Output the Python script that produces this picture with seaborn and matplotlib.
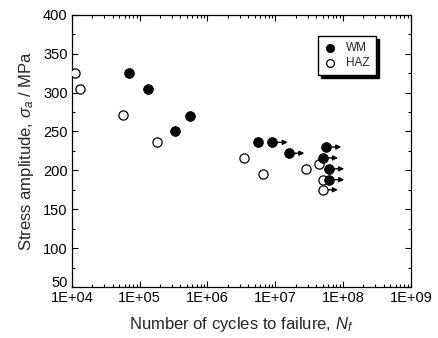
import numpy as np
import pandas as pd
import matplotlib
matplotlib.use("Agg")
import matplotlib.pyplot as plt
import matplotlib.ticker as mticker
from matplotlib.transforms import offset_copy
import seaborn as sns

# S-N data
wm_cycles = [7.0e4, 1.32e5, 3.3e5, 5.5e5, 5.5e6, 9.1e6, 1.6e7, 5.6e7, 5.0e7, 6.2e7, 6.2e7]
wm_stress = [325, 305, 250, 270, 236, 236, 222, 230, 216, 202, 188]
wm_runout = [False, False, False, False, False, True, True, True, True, True, True]

haz_cycles = [1.1e4, 1.34e4, 5.6e4, 1.8e5, 3.5e6, 6.6e6, 2.8e7, 4.4e7, 5.0e7, 5.0e7]
haz_stress = [325, 305, 271, 236, 216, 195, 202, 208, 188, 175]
haz_runout = [False, False, False, False, False, False, False, False, False, True]

x_ticks = [1e4, 1e5, 1e6, 1e7, 1e8, 1e9]

df = pd.concat([
    pd.DataFrame({"N": wm_cycles, "S": wm_stress, "runout": wm_runout, "zone": "WM"}),
    pd.DataFrame({"N": haz_cycles, "S": haz_stress, "runout": haz_runout, "zone": "HAZ"}),
], ignore_index=True)

sns.set_style("ticks")
plt.rcParams["font.family"] = ["Liberation Sans", "DejaVu Sans"]
plt.rcParams["mathtext.fontset"] = "custom"
plt.rcParams["mathtext.rm"] = "Liberation Sans"
plt.rcParams["mathtext.it"] = "Liberation Sans:italic"

fig = plt.figure(figsize=(4.38, 3.38), dpi=100)
ax = fig.add_axes([0.164, 0.151, 0.774, 0.805])

# runout arrows first so markers sit on top
shift = offset_copy(ax.transData, fig=fig, x=11, y=0, units="points")
for _, r in df[df["runout"]].iterrows():
    ax.annotate("", xy=(r["N"], r["S"]), xycoords=shift,
                xytext=(r["N"], r["S"]), textcoords="data",
                arrowprops=dict(arrowstyle="-|>", color="black", lw=1.0,
                                mutation_scale=7, shrinkA=0, shrinkB=0),
                zorder=2)

sns.scatterplot(data=df[df["zone"] == "HAZ"], x="N", y="S", ax=ax,
                marker="o", s=44, facecolor="white", edgecolor="black",
                linewidth=0.9, label="HAZ", zorder=3)
sns.scatterplot(data=df[df["zone"] == "WM"], x="N", y="S", ax=ax,
                marker="o", s=50, color="black", edgecolor="black",
                linewidth=0.5, label="WM", zorder=4)

ax.set_xscale("log")
ax.set_xlim(1e4, 1e9)
ax.set_ylim(50, 400)
ax.set_xticks(x_ticks)
ax.xaxis.set_major_formatter(mticker.FuncFormatter(lambda v, p: "1E+%02d" % int(round(np.log10(v)))))
ax.xaxis.set_minor_locator(mticker.LogLocator(base=10, subs=np.arange(2, 10), numticks=20))
ax.xaxis.set_minor_formatter(mticker.NullFormatter())
ax.yaxis.set_major_locator(mticker.MultipleLocator(50))
ax.yaxis.set_minor_locator(mticker.MultipleLocator(25))

ax.tick_params(which="both", direction="in", top=True, right=True, labelsize=10.5, colors="black")
ax.tick_params(which="major", length=4, width=0.8, pad=3)
ax.tick_params(which="minor", length=2, width=0.8)
for sp in ax.spines.values():
    sp.set_linewidth(0.9)
    sp.set_color("black")

# lift the bottom y label a little so it clears 1E+04, as in the original
for lab, val in zip(ax.get_yticklabels(), ax.get_yticks()):
    if val == 50:
        lab.set_va("baseline")

ax.set_xlabel("Number of cycles to failure, $N_f$", fontsize=12, labelpad=7)
ax.set_ylabel(r"Stress amplitude, $\sigma_a$ / MPa", fontsize=12, labelpad=5)

handles, labels = ax.get_legend_handles_labels()
order = [labels.index("WM"), labels.index("HAZ")]
ax.legend([handles[i] for i in order], [labels[i] for i in order],
          loc="upper right", bbox_to_anchor=(0.897, 0.923), borderaxespad=0,
          frameon=True, fancybox=False, edgecolor="black", framealpha=1,
          shadow={"facecolor": "black", "edgecolor": "black", "alpha": 1},
          fontsize=8.5, handlelength=1.0, handletextpad=0.9, labelspacing=0.3,
          borderpad=0.5, markerscale=0.85)

fig.savefig("out.png", dpi=100)
